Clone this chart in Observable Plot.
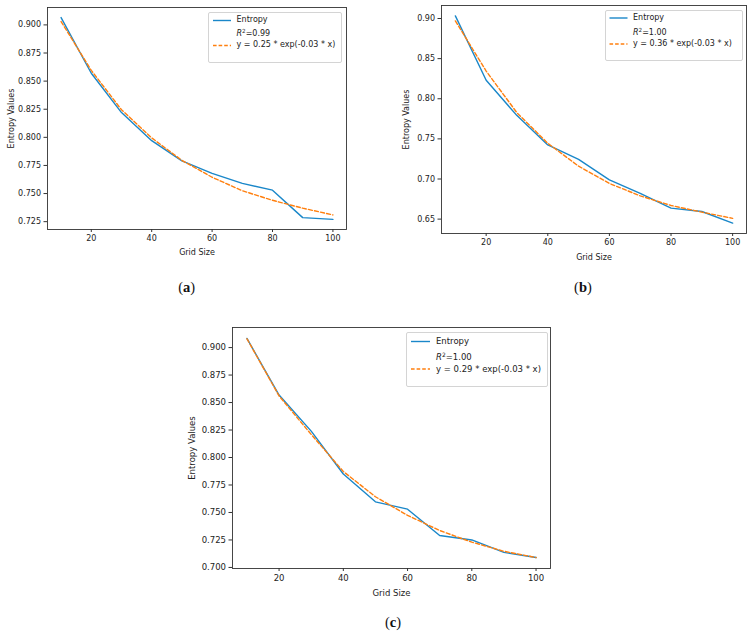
<!DOCTYPE html>
<html>
<head>
<meta charset="utf-8">
<script src="https://cdn.jsdelivr.net/npm/d3@7"></script>
<script src="https://cdn.jsdelivr.net/npm/@observablehq/plot@0.6"></script>
<style>
  html, body { margin: 0; padding: 0; background: #fff; }
  #root { position: relative; width: 753px; height: 636px; background: #fff; overflow: hidden; }
  .panel { position: absolute; }
  .legend { position: absolute; box-sizing: border-box; border: 1px solid #d4d4d4; border-radius: 2px; background: rgba(255,255,255,0.85); font-family: "DejaVu Sans", sans-serif; color: #222; }
  .legend .row { position: absolute; white-space: nowrap; line-height: 1; transform: translateY(-50%); }
  .legend svg { position: absolute; left: 0; top: 0; overflow: visible; }
  .cap { position: absolute; transform: translate(-50%, -50%); font-family: "Liberation Serif", "DejaVu Serif", serif; font-size: 14.5px; color: #111; white-space: nowrap; }
  sup { font-size: 70%; vertical-align: 0.45em; line-height: 0; }
</style>
</head>
<body>
<div id="root"></div>
<script>
// ---------- data ----------
const gridSize = [10, 20, 30, 40, 50, 60, 70, 80, 90, 100];
const xTicks = [20, 40, 60, 80, 100];

const entropyA = [0.9065, 0.857, 0.822, 0.797, 0.779, 0.768, 0.759, 0.753, 0.7286, 0.727];
const fitA     = [0.903, 0.8595, 0.8245, 0.7995, 0.7795, 0.7645, 0.7525, 0.744, 0.737, 0.731];
const yTicksA  = [0.725, 0.750, 0.775, 0.800, 0.825, 0.850, 0.875, 0.900];
const fitLabelA = ["0.99", "y = 0.25 * exp(-0.03 * x)"];

const entropyB = [0.9033, 0.823, 0.779, 0.7425, 0.7245, 0.699, 0.682, 0.6637, 0.6595, 0.645];
const fitB     = [0.897, 0.8345, 0.7825, 0.7445, 0.716, 0.6945, 0.679, 0.667, 0.6587, 0.651];
const yTicksB  = [0.65, 0.70, 0.75, 0.80, 0.85, 0.90];
const fitLabelB = ["1.00", "y = 0.36 * exp(-0.03 * x)"];

const entropyC = [0.9083, 0.8568, 0.824, 0.785, 0.7597, 0.753, 0.729, 0.725, 0.7137, 0.709];
const fitC     = [0.908, 0.856, 0.821, 0.7873, 0.7643, 0.7474, 0.7336, 0.723, 0.7147, 0.709];
const yTicksC  = [0.700, 0.725, 0.750, 0.775, 0.800, 0.825, 0.850, 0.875, 0.900];
const fitLabelC = ["1.00", "y = 0.29 * exp(-0.03 * x)"];

const seriesName = "Entropy";
const xLabel = "Grid Size";
const yLabel = "Entropy Values";
const captions = ["a", "b", "c"];

// ---------- styling ----------
const BLUE = "#1a87c9";
const ORANGE = "#ff7f0e";
const root = document.getElementById("root");

function makePanel(cfg) {
  const data = gridSize.map((x, i) => ({x, ent: cfg.ent[i], fit: cfg.fit[i]}));
  const [ylo, yhi] = d3.extent(cfg.ent.concat(cfg.fit));
  const ypad = (yhi - ylo) * 0.05;
  const [xlo, xhi] = d3.extent(gridSize);
  const xpad = (xhi - xlo) * 0.05;
  const fs = cfg.fontSize;
  const chart = Plot.plot({
    width: cfg.width, height: cfg.height,
    marginLeft: cfg.m[0], marginRight: cfg.m[1], marginTop: cfg.m[2], marginBottom: cfg.m[3],
    style: {fontFamily: "DejaVu Sans, sans-serif", fontSize: fs + "px", color: "#222", background: "transparent", overflow: "visible"},
    x: {domain: [xlo - xpad, xhi + xpad]},
    y: {domain: [ylo - ypad, yhi + ypad]},
    marks: [
      Plot.line(data, {x: "x", y: "ent", stroke: BLUE, strokeWidth: 1.4}),
      Plot.line(data, {x: "x", y: "fit", stroke: ORANGE, strokeWidth: 1.4, strokeDasharray: "4,2.2"}),
      Plot.frame({stroke: "#333", strokeWidth: 0.9}),
      Plot.axisX({ticks: xTicks, tickSize: 3, tickPadding: 3, fontSize: fs, stroke: "#333",
        label: xLabel, labelAnchor: "center", labelArrow: "none", labelOffset: cfg.xlo}),
      Plot.axisY({ticks: cfg.yTicks, tickFormat: d3.format(cfg.yfmt), tickSize: 3.5, tickPadding: 3, fontSize: fs, stroke: "#333",
        label: yLabel, labelAnchor: "center", labelArrow: "none", labelOffset: cfg.ylo})
    ]
  });
  const div = document.createElement("div");
  div.className = "panel";
  div.style.left = cfg.left + "px";
  div.style.top = cfg.top + "px";
  div.appendChild(chart);

  // legend
  const L = cfg.legend;
  const lg = document.createElement("div");
  lg.className = "legend";
  lg.style.left = (L.x - cfg.left) + "px";
  lg.style.top = (L.y - cfg.top) + "px";
  lg.style.width = L.w + "px";
  lg.style.height = L.h + "px";
  lg.style.fontSize = fs + "px";
  const r = L.rows;
  lg.innerHTML =
    `<svg width="${L.w}" height="${L.h}">` +
    `<line x1="${L.l0}" x2="${L.l1}" y1="${r[0]}" y2="${r[0]}" stroke="${BLUE}" stroke-width="1.4"/>` +
    `<line x1="${L.l0}" x2="${L.l1}" y1="${r[2]}" y2="${r[2]}" stroke="${ORANGE}" stroke-width="1.4" stroke-dasharray="3.6,2"/>` +
    `</svg>` +
    `<div class="row" style="left:${L.t}px;top:${r[0]}px">${seriesName}</div>` +
    `<div class="row" style="left:${L.t}px;top:${r[1]}px"><i>R</i><sup>2</sup>=${cfg.label[0]}</div>` +
    `<div class="row" style="left:${L.t}px;top:${r[2]}px">${cfg.label[1]}</div>`;
  div.appendChild(lg);
  root.appendChild(div);

  const cap = document.createElement("div");
  cap.className = "cap";
  cap.style.left = cfg.cap[0] + "px";
  cap.style.top = cfg.cap[1] + "px";
  cap.innerHTML = `(<b>${cfg.capText}</b>)`;
  root.appendChild(cap);
}

makePanel({
  ent: entropyA, fit: fitA, yTicks: yTicksA, yfmt: ".3f", label: fitLabelA, capText: captions[0],
  left: 0, top: 0, width: 360, height: 270, m: [47, 14, 7, 41], fontSize: 8,
  xlo: 25, ylo: 39,
  legend: {x: 207.5, y: 11.5, w: 134, h: 51, rows: [7.5, 21.5, 32.5], l0: 4, l1: 22, t: 28},
  cap: [186.7, 286.5]
});
makePanel({
  ent: entropyB, fit: fitB, yTicks: yTicksB, yfmt: ".2f", label: fitLabelB, capText: captions[1],
  left: 380, top: 0, width: 373, height: 270, m: [61, 7, 5, 37], fontSize: 8,
  xlo: 26, ylo: 38,
  legend: {x: 604.5, y: 10, w: 138, h: 51, rows: [7, 22, 33], l0: 3.5, l1: 21.5, t: 27.5},
  cap: [583, 286.7]
});
makePanel({
  ent: entropyC, fit: fitC, yTicks: yTicksC, yfmt: ".3f", label: fitLabelC, capText: captions[2],
  left: 180, top: 320, width: 380, height: 280, m: [52, 10, 7, 32], fontSize: 8.5,
  xlo: 27, ylo: 44,
  legend: {x: 405.5, y: 331.5, w: 142, h: 55, rows: [8.5, 24, 36], l0: 4, l1: 23, t: 29.5},
  cap: [393, 621.7]
});
</script>
</body>
</html>
